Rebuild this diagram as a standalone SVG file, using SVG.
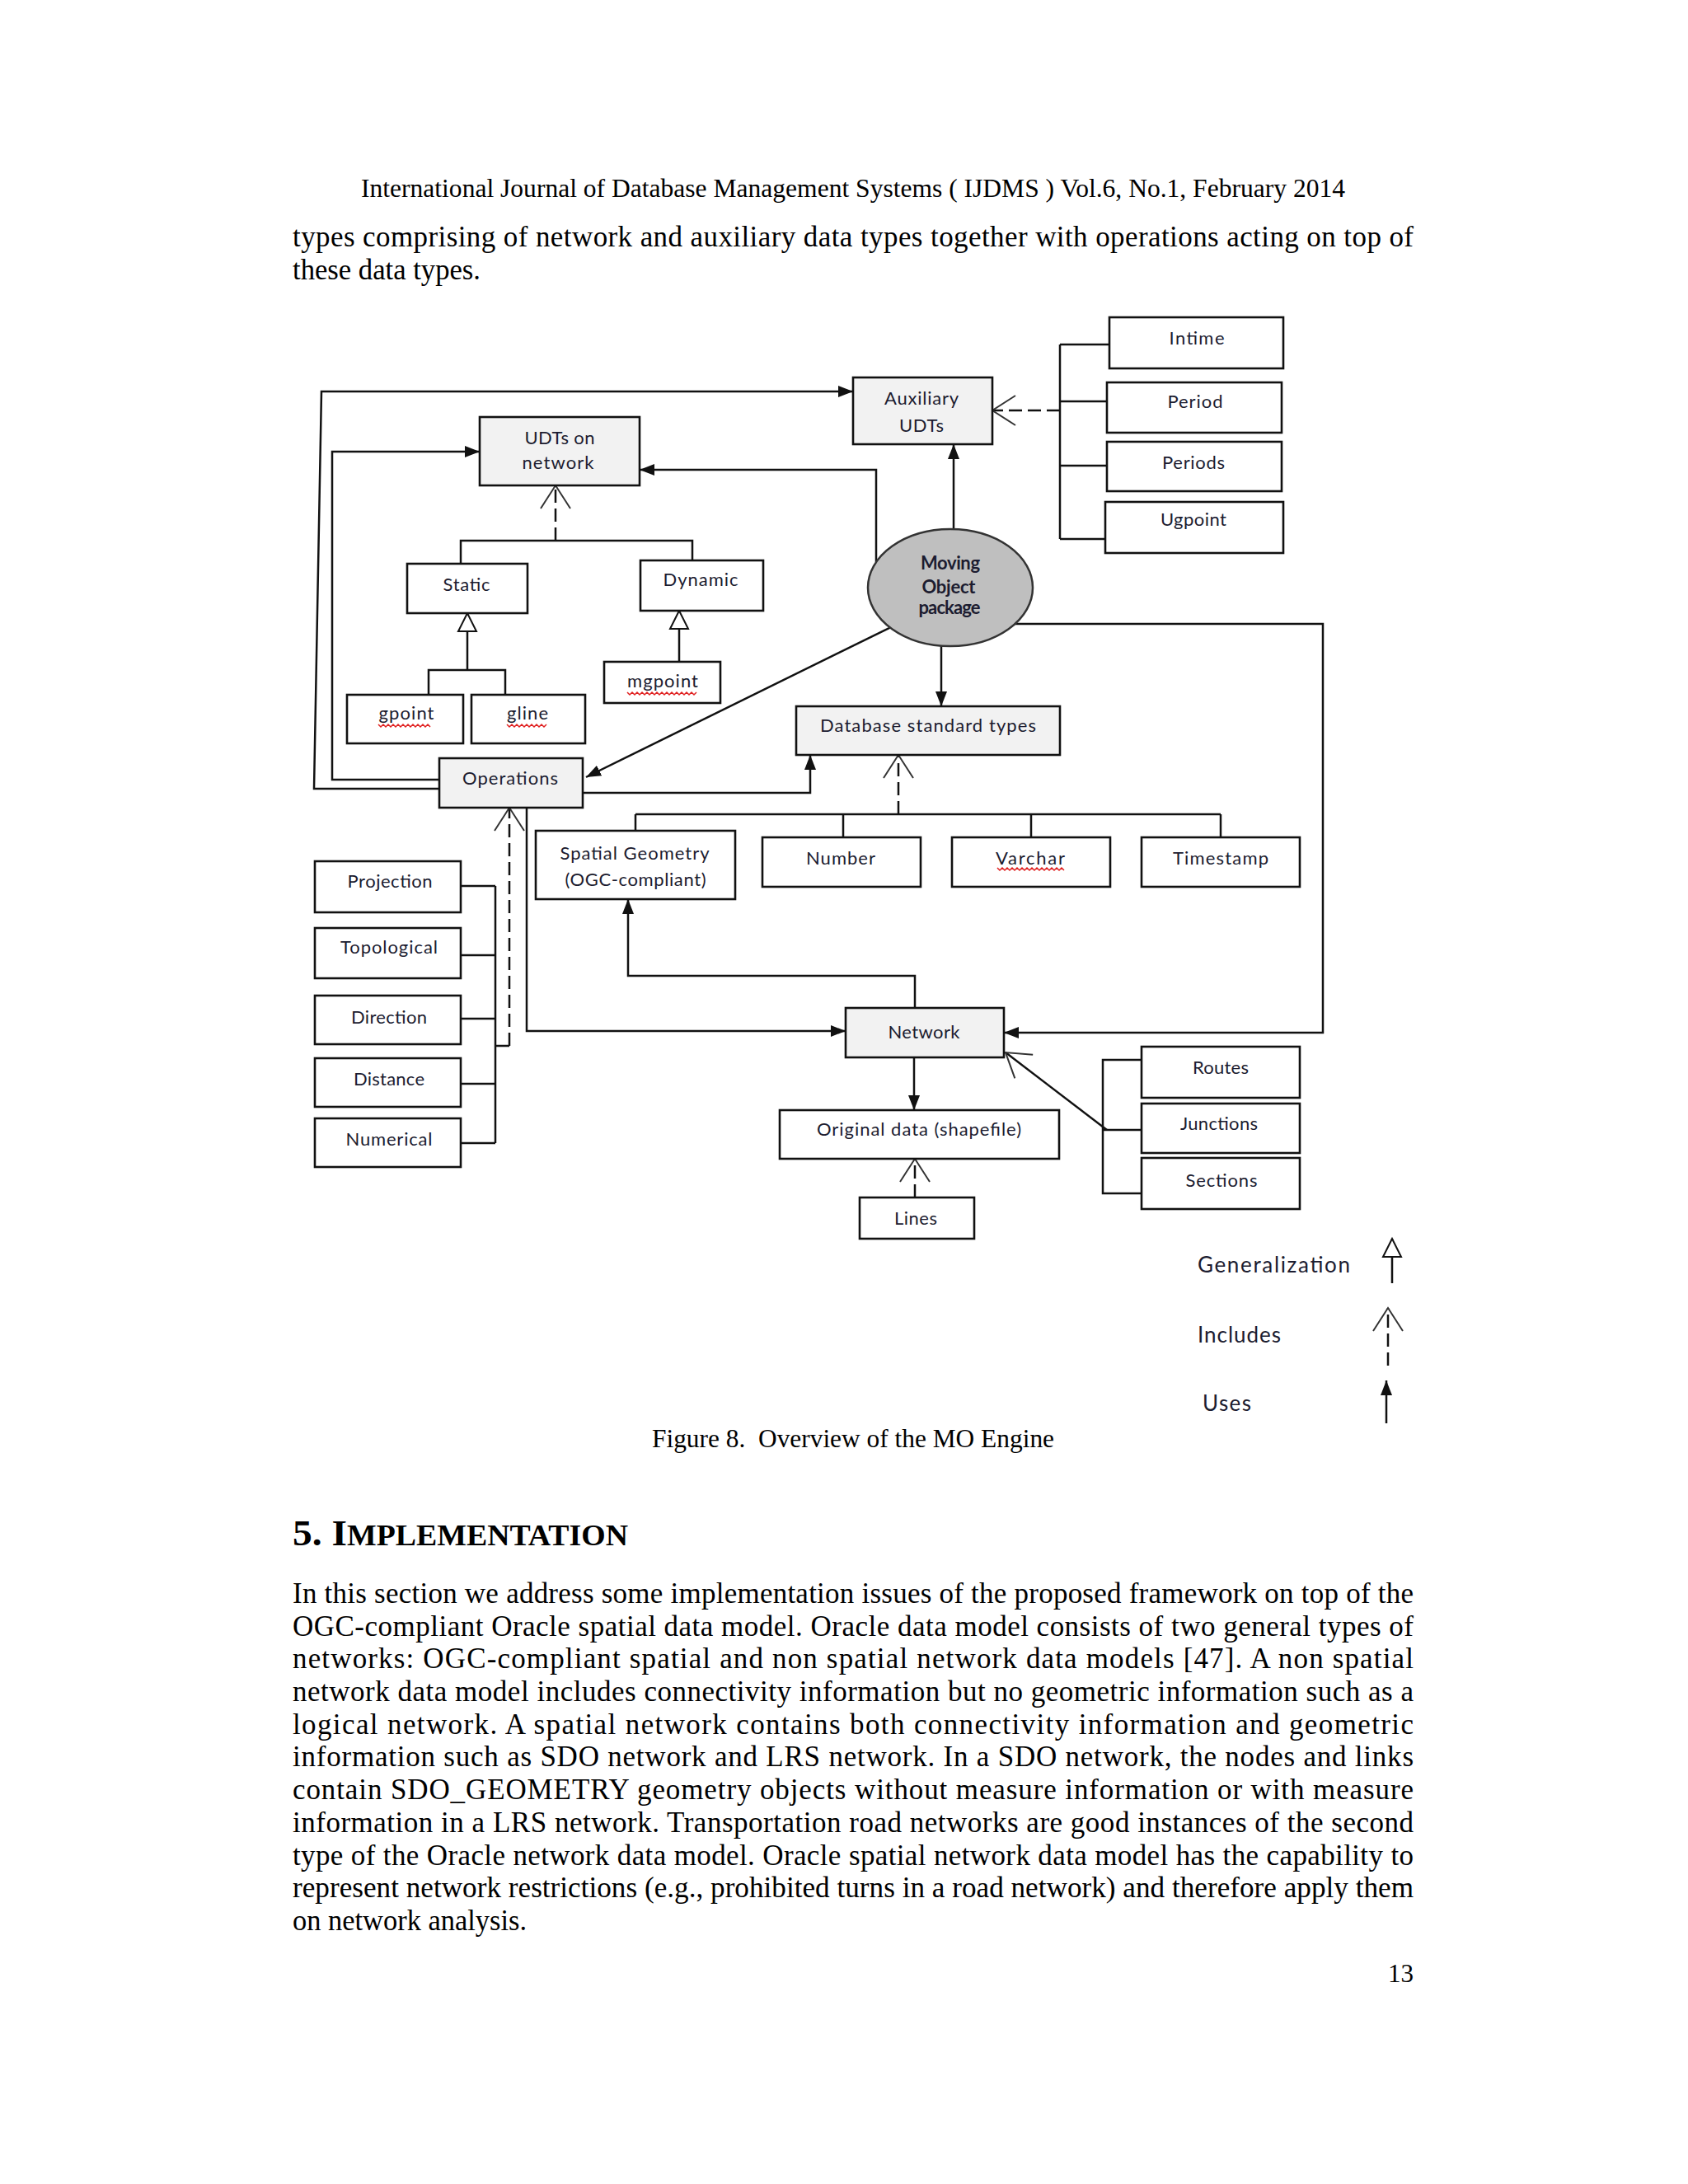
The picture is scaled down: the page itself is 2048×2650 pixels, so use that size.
<svg xmlns="http://www.w3.org/2000/svg" width="2048" height="2650" viewBox="0 0 2048 2650">
<style>
.pg{font-family:"Liberation Serif","Times New Roman",serif;fill:#000}
.lb{font-family:Lato,"Open Sans","Liberation Sans",sans-serif;font-size:22px;fill:#1c1c30;text-anchor:middle}
.lg{font-family:Lato,"Open Sans","Liberation Sans",sans-serif;font-size:26px;fill:#1c1c30}
.bx{fill:#fff;stroke:#111;stroke-width:2.6}
.gx{fill:#f2f2f2;stroke:#111;stroke-width:2.6}
.ln{fill:none;stroke:#111;stroke-width:2.5}
.ds{fill:none;stroke:#111;stroke-width:2.5;stroke-dasharray:16 7}
.sq{fill:none;stroke:#e02020;stroke-width:1.5}
</style>
<defs>
<marker id="uses" markerUnits="userSpaceOnUse" markerWidth="18" markerHeight="14" refX="18" refY="7" orient="auto"><path d="M0,0 L18,7 L0,14 z" fill="#111"/></marker>
<marker id="incl" markerUnits="userSpaceOnUse" markerWidth="32" markerHeight="42" refX="29" refY="21" orient="auto"><path d="M1,3 L29,21 L1,39" fill="none" stroke="#333" stroke-width="2"/></marker>
<marker id="gen" markerUnits="userSpaceOnUse" markerWidth="26" markerHeight="26" refX="23" refY="13" orient="auto"><path d="M1,2 L23,13 L1,24 z" fill="#fff" stroke="#111" stroke-width="2"/></marker>
</defs>
<rect width="2048" height="2650" fill="#fff"/>

<g id="page-text">
<text class="pg" x="438" y="239" font-size="31" textLength="1194" lengthAdjust="spacingAndGlyphs">International Journal of Database Management Systems ( IJDMS ) Vol.6, No.1, February 2014</text>
<text class="pg" x="355" y="299" font-size="35" textLength="1360" lengthAdjust="spacing">types comprising of network and auxiliary data types together with operations acting on top of</text>
<text class="pg" x="355" y="339" font-size="35" textLength="228" lengthAdjust="spacingAndGlyphs">these data types.</text>
<text class="pg" x="791" y="1756" font-size="31" textLength="488" lengthAdjust="spacingAndGlyphs" xml:space="preserve">Figure 8.  Overview of the MO Engine</text>
<text class="pg" x="355" y="1875" font-weight="bold" textLength="407" lengthAdjust="spacingAndGlyphs"><tspan font-size="44">5. I</tspan><tspan font-size="35">MPLEMENTATION</tspan></text>
<g font-size="35">
<text class="pg" x="355" y="1945" textLength="1360" lengthAdjust="spacing">In this section we address some implementation issues of the proposed framework on top of the</text>
<text class="pg" x="355" y="1985" textLength="1360" lengthAdjust="spacing">OGC-compliant Oracle spatial data model. Oracle data model consists of two general types of</text>
<text class="pg" x="355" y="2024" textLength="1360" lengthAdjust="spacing">networks: OGC-compliant spatial and non spatial network data models [47]. A non spatial</text>
<text class="pg" x="355" y="2064" textLength="1360" lengthAdjust="spacing">network data model includes connectivity information but no geometric information such as a</text>
<text class="pg" x="355" y="2104" textLength="1360" lengthAdjust="spacing">logical network. A spatial network contains both connectivity information and geometric</text>
<text class="pg" x="355" y="2143" textLength="1360" lengthAdjust="spacing">information such as SDO network and LRS network. In a SDO network, the nodes and links</text>
<text class="pg" x="355" y="2183" textLength="1360" lengthAdjust="spacing">contain SDO_GEOMETRY geometry objects without measure information or with measure</text>
<text class="pg" x="355" y="2223" textLength="1360" lengthAdjust="spacing">information in a LRS network. Transportation road networks are good instances of the second</text>
<text class="pg" x="355" y="2263" textLength="1360" lengthAdjust="spacing">type of the Oracle network data model. Oracle spatial network data model has the capability to</text>
<text class="pg" x="355" y="2302" textLength="1360" lengthAdjust="spacingAndGlyphs">represent network restrictions (e.g., prohibited turns in a road network) and therefore apply them</text>
<text class="pg" x="355" y="2342" textLength="284" lengthAdjust="spacingAndGlyphs">on network analysis.</text>
</g>
<text class="pg" x="1715" y="2405" font-size="31" text-anchor="end">13</text>
</g>

<g id="connectors">
<path class="ln" d="M533,957 L381,957 L390,475 L1035,475" marker-end="url(#uses)"/>
<path class="ln" d="M533,946 L403,946 L403,548 L582,548" marker-end="url(#uses)"/>
<path class="ln" d="M708,962 L983,962 L983,916" marker-end="url(#uses)"/>
<path class="ln" d="M1063,682 L1063,570 L776,570" marker-end="url(#uses)"/>
<path class="ln" d="M1083,760 L711,943" stroke-width="2" marker-end="url(#uses)"/>
<path class="ln" d="M1157,642 L1157,539" marker-end="url(#uses)"/>
<path class="ln" d="M1142,784 L1142,857" marker-end="url(#uses)"/>
<path class="ln" d="M1231,757 L1605,757 L1605,1253 L1218,1253" marker-end="url(#uses)"/>
<path class="ln" d="M639,980 L639,1251 L1026,1251" marker-end="url(#uses)"/>
<path class="ln" d="M1110,1223 L1110,1184 L762,1184 L762,1091" marker-end="url(#uses)"/>
<path class="ln" d="M1109,1283 L1109,1347" marker-end="url(#uses)"/>
<path class="ds" d="M1110,1453 L1110,1406" marker-end="url(#incl)"/>
<path class="ln" d="M1343,1371 L1220,1277" stroke-width="1.6" stroke="#444" marker-end="url(#incl)"/>
<path class="ln" d="M559,1075 L601,1075 M559,1159 L601,1159 M559,1236 L601,1236 M559,1315 L601,1315 M559,1387 L601,1387 M601,1075 L601,1387 M601,1269 L618,1269"/>
<path class="ds" d="M618,1269 L618,980" marker-end="url(#incl)"/>
<path class="ln" d="M1286,418 L1286,654 M1286,418 L1346,418 M1286,487 L1343,487 M1286,565 L1343,565 M1286,654 L1341,654"/>
<path class="ds" d="M1286,498 L1204,498" marker-end="url(#incl)"/>
<path class="ln" d="M771,988 L1481,988 M771,988 L771,1008 M1023,988 L1023,1016 M1251,988 L1251,1016 M1481,988 L1481,1016"/>
<path class="ds" d="M1090,988 L1090,916" marker-end="url(#incl)"/>
<path class="ln" d="M559,684 L559,656 L840,656 L840,680"/>
<path class="ds" d="M674,656 L674,589" marker-end="url(#incl)"/>
<path class="ln" d="M567,813 L567,744" marker-end="url(#gen)"/>
<path class="ln" d="M520,843 L520,813 L613,813 L613,843" stroke="#555" stroke-width="3.5"/>
<path class="ln" d="M824,803 L824,741" marker-end="url(#gen)"/>
<path class="ln" d="M1385,1286 L1338,1286 L1338,1448 L1385,1448 M1338,1371 L1385,1371"/>
</g>

<g id="node-intime"><rect class="bx" x="1346" y="385" width="211" height="62"/><text class="lb" x="1452" y="418" textLength="67" lengthAdjust="spacing">Intime</text></g>
<g id="node-period"><rect class="bx" x="1343" y="464" width="212" height="61"/><text class="lb" x="1450" y="495" textLength="67" lengthAdjust="spacing">Period</text></g>
<g id="node-periods"><rect class="bx" x="1343" y="536" width="212" height="60"/><text class="lb" x="1448" y="569" textLength="76" lengthAdjust="spacing">Periods</text></g>
<g id="node-ugpoint"><rect class="bx" x="1341" y="609" width="216" height="62"/><text class="lb" x="1448" y="638" textLength="80" lengthAdjust="spacing">Ugpoint</text></g>
<g id="node-auxiliary"><rect class="gx" x="1035" y="458" width="169" height="81"/><text class="lb" x="1118" y="491" textLength="90" lengthAdjust="spacing">Auxiliary</text><text class="lb" x="1118" y="524" textLength="54" lengthAdjust="spacing">UDTs</text></g>
<g id="node-udts"><rect class="gx" x="582" y="506" width="194" height="83"/><text class="lb" x="679" y="539" textLength="85" lengthAdjust="spacing">UDTs on</text><text class="lb" x="677" y="569" textLength="87" lengthAdjust="spacing">network</text></g>
<g id="node-mo"><ellipse cx="1153" cy="713" rx="100" ry="71" fill="#bfbfbf" stroke="#333" stroke-width="2.5"/><text class="lb" x="1153" y="691" font-size="20" font-weight="bold" textLength="72" lengthAdjust="spacing">Moving</text><text class="lb" x="1151" y="720" font-size="20" font-weight="bold" textLength="65" lengthAdjust="spacing">Object</text><text class="lb" x="1152" y="745" font-size="20" font-weight="bold" textLength="75" lengthAdjust="spacing">package</text></g>
<g id="node-static"><rect class="bx" x="494" y="684" width="146" height="60"/><text class="lb" x="566" y="717" textLength="57" lengthAdjust="spacing">Static</text></g>
<g id="node-dynamic"><rect class="bx" x="777" y="680" width="149" height="61"/><text class="lb" x="850" y="711" textLength="91" lengthAdjust="spacing">Dynamic</text></g>
<g id="node-gpoint"><rect class="bx" x="421" y="843" width="141" height="59"/><text class="lb" x="493" y="873" textLength="67" lengthAdjust="spacing">gpoint</text><path class="sq" d="M459,879 l3,3 l3,-3 l3,3 l3,-3 l3,3 l3,-3 l3,3 l3,-3 l3,3 l3,-3 l3,3 l3,-3 l3,3 l3,-3 l3,3 l3,-3 l3,3 l3,-3 l3,3 l3,-3 l3,3"/></g>
<g id="node-gline"><rect class="bx" x="572" y="843" width="138" height="59"/><text class="lb" x="640" y="873" textLength="50" lengthAdjust="spacing">gline</text><path class="sq" d="M615,879 l3,3 l3,-3 l3,3 l3,-3 l3,3 l3,-3 l3,3 l3,-3 l3,3 l3,-3 l3,3 l3,-3 l3,3 l3,-3 l3,3 l3,-3"/></g>
<g id="node-mgpoint"><rect class="bx" x="733" y="803" width="141" height="50"/><text class="lb" x="804" y="834" textLength="86" lengthAdjust="spacing">mgpoint</text><path class="sq" d="M761,840 l3,3 l3,-3 l3,3 l3,-3 l3,3 l3,-3 l3,3 l3,-3 l3,3 l3,-3 l3,3 l3,-3 l3,3 l3,-3 l3,3 l3,-3 l3,3 l3,-3 l3,3 l3,-3 l3,3 l3,-3 l3,3 l3,-3 l3,3 l3,-3 l3,3 l3,-3"/></g>
<g id="node-dbtypes"><rect class="gx" x="966" y="857" width="320" height="59"/><text class="lb" x="1126" y="888" textLength="262" lengthAdjust="spacing">Database standard types</text></g>
<g id="node-operations"><rect class="gx" x="533" y="920" width="174" height="60"/><text class="lb" x="619" y="952" textLength="116" lengthAdjust="spacing">Operations</text></g>
<g id="node-spatial"><rect class="bx" x="650" y="1008" width="242" height="83"/><text class="lb" x="770" y="1043" textLength="181" lengthAdjust="spacing">Spatial Geometry</text><text class="lb" x="771" y="1075" textLength="171" lengthAdjust="spacing">(OGC-compliant)</text></g>
<g id="node-number"><rect class="bx" x="925" y="1016" width="192" height="60"/><text class="lb" x="1020" y="1049" textLength="84" lengthAdjust="spacing">Number</text></g>
<g id="node-varchar"><rect class="bx" x="1155" y="1016" width="192" height="60"/><text class="lb" x="1250" y="1049" textLength="84" lengthAdjust="spacing">Varchar</text><path class="sq" d="M1210,1053 l3,3 l3,-3 l3,3 l3,-3 l3,3 l3,-3 l3,3 l3,-3 l3,3 l3,-3 l3,3 l3,-3 l3,3 l3,-3 l3,3 l3,-3 l3,3 l3,-3 l3,3 l3,-3 l3,3 l3,-3 l3,3 l3,-3 l3,3 l3,-3 l3,3"/></g>
<g id="node-timestamp"><rect class="bx" x="1385" y="1016" width="192" height="60"/><text class="lb" x="1481" y="1049" textLength="116" lengthAdjust="spacing">Timestamp</text></g>
<g id="node-projection"><rect class="bx" x="382" y="1045" width="177" height="62"/><text class="lb" x="473" y="1077" textLength="103" lengthAdjust="spacing">Projection</text></g>
<g id="node-topological"><rect class="bx" x="382" y="1126" width="177" height="61"/><text class="lb" x="472" y="1157" textLength="118" lengthAdjust="spacing">Topological</text></g>
<g id="node-direction"><rect class="bx" x="382" y="1208" width="177" height="59"/><text class="lb" x="472" y="1242" textLength="92" lengthAdjust="spacing">Direction</text></g>
<g id="node-distance"><rect class="bx" x="382" y="1284" width="177" height="59"/><text class="lb" x="472" y="1317" textLength="86" lengthAdjust="spacing">Distance</text></g>
<g id="node-numerical"><rect class="bx" x="382" y="1357" width="177" height="59"/><text class="lb" x="472" y="1390" textLength="105" lengthAdjust="spacing">Numerical</text></g>
<g id="node-network"><rect class="gx" x="1026" y="1223" width="192" height="60"/><text class="lb" x="1121" y="1260" textLength="87" lengthAdjust="spacing">Network</text></g>
<g id="node-routes"><rect class="bx" x="1385" y="1270" width="192" height="62"/><text class="lb" x="1481" y="1303" textLength="68" lengthAdjust="spacing">Routes</text></g>
<g id="node-junctions"><rect class="bx" x="1385" y="1339" width="192" height="60"/><text class="lb" x="1479" y="1371" textLength="94" lengthAdjust="spacing">Junctions</text></g>
<g id="node-sections"><rect class="bx" x="1385" y="1405" width="192" height="62"/><text class="lb" x="1482" y="1440" textLength="87" lengthAdjust="spacing">Sections</text></g>
<g id="node-original"><rect class="bx" x="946" y="1347" width="339" height="59"/><text class="lb" x="1115" y="1378" textLength="248" lengthAdjust="spacing">Original data (shapefile)</text></g>
<g id="node-lines"><rect class="bx" x="1043" y="1453" width="139" height="50"/><text class="lb" x="1111" y="1486" textLength="52" lengthAdjust="spacing">Lines</text></g>

<g id="legend">
<text class="lg" x="1453" y="1544" textLength="185" lengthAdjust="spacing">Generalization</text>
<text class="lg" x="1453" y="1629" textLength="101" lengthAdjust="spacing">Includes</text>
<text class="lg" x="1459" y="1712" textLength="59" lengthAdjust="spacing">Uses</text>
<path class="ln" d="M1689,1557 L1689,1503" marker-end="url(#gen)"/>
<path class="ds" d="M1684,1657 L1684,1587" marker-end="url(#incl)"/>
<path class="ln" d="M1682,1727 L1682,1675" marker-end="url(#uses)"/>
</g>
</svg>
